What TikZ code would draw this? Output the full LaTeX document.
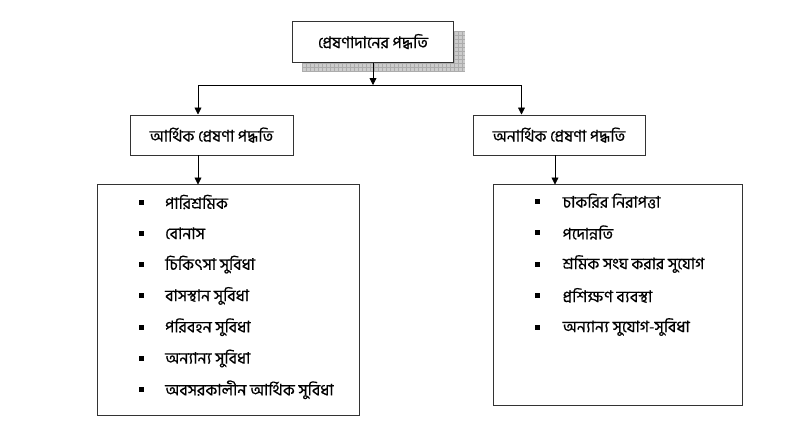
\documentclass[tikz,border=0pt]{standalone}
\usepackage{fontspec}
\newfontfamily\bn[Script=Bengali,FakeBold=0.6]{Hind Siliguri}
\usetikzlibrary{arrows.meta}
\begin{document}
\begin{tikzpicture}[x=1pt,y=-1pt,
  every node/.style={font=\bn\fontsize{16}{18}\selectfont, text=black},
  headbox/.style={draw=black!80, line width=1pt, fill=white, inner sep=0pt},
  conn/.style={black, line width=0.8pt},
  arr/.style={conn, -{Triangle[length=7pt,width=7pt]}},
  bullet/.style={fill=black, minimum size=5pt, inner sep=0pt},
  item/.style={anchor=west, inner sep=0pt}
]
\useasboundingbox (0,0) rectangle (801,434);
% shadow of top box
\begin{scope}
\fill[gray!40] (302,31) rectangle (465,72);
\clip (302,31) rectangle (465,72);
\foreach \x in {302,306,...,466} \draw[gray!65, line width=0.4pt] (\x,31) -- (\x,72);
\foreach \y in {31,35,...,72} \draw[gray!65, line width=0.4pt] (302,\y) -- (465,\y);
\end{scope}
% boxes
\node[headbox, minimum width=161pt, minimum height=41pt] (top) at (373,41.5) {প্রেষণাদানের পদ্ধতি};
\node[headbox, minimum width=163pt, minimum height=40pt] (left) at (211.5,135) {আর্থিক প্রেষণা পদ্ধতি};
\node[headbox, minimum width=172pt, minimum height=40pt] (right) at (559,135) {অনার্থিক প্রেষণা পদ্ধতি};
\node[draw=black!80, line width=1pt, minimum width=262pt, minimum height=231pt, inner sep=0pt] (llist) at (228,300) {};
\node[draw=black!80, line width=1pt, minimum width=249pt, minimum height=221pt, inner sep=0pt] (rlist) at (617.5,294.5) {};
% connectors
\coordinate (j) at (373,85);
\coordinate (jl) at (198,85);
\coordinate (jr) at (521.5,85);
\draw[arr] (top.south) -- (j);
\draw[conn] (jl) -- (jr);
\draw[arr] (jl) -- (jl |- left.north);
\draw[arr] (jr) -- (jr |- right.north);
\draw[arr] (198,155) -- (198,184.5);
\draw[arr] (555,155) -- (555,184.5);
% left items
\foreach \t [count=\i] in {পারিশ্রমিক, বোনাস, চিকিৎসা সুবিধা, বাসস্থান সুবিধা, পরিবহন সুবিধা, অন্যান্য সুবিধা, অবসরকালীন আর্থিক সুবিধা}{
  \node[bullet] (lb\i) at (141.5, 202+31.3*\i-31.3) {};
  \node[item] (lt\i) at (165, 202+31.3*\i-31.3) {\t};
}
% right items
\foreach \t [count=\i] in {চাকরির নিরাপত্তা, পদোন্নতি, শ্রমিক সংঘ করার সুযোগ, প্রশিক্ষণ ব্যবস্থা, অন্যান্য সুযোগ-সুবিধা}{
  \node[bullet] (rb\i) at (537.5, 201+31.5*\i-31.5) {};
  \node[item] (rt\i) at (562.5, 201+31.5*\i-31.5) {\t};
}
\end{tikzpicture}
\end{document}
